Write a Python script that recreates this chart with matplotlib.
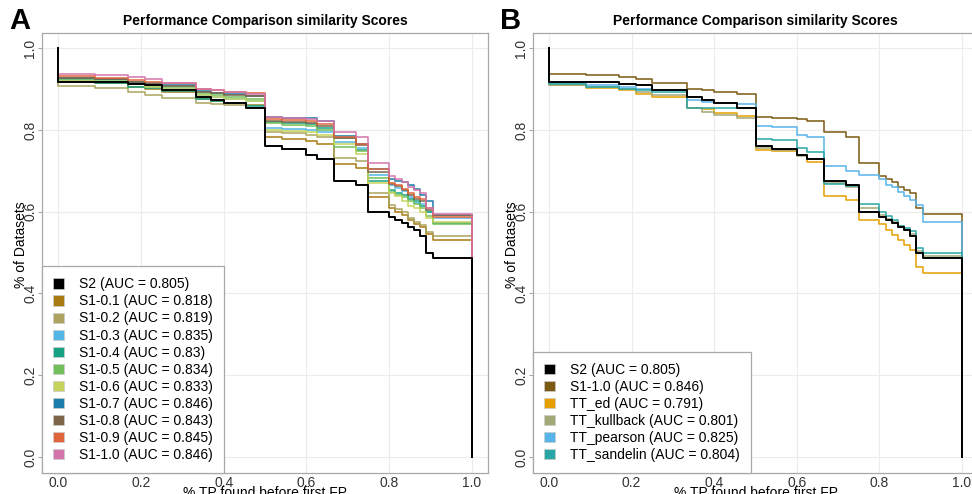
import matplotlib
matplotlib.use("Agg")
import matplotlib.pyplot as plt
from matplotlib.patches import Patch

plt.rcParams['font.family'] = ['Liberation Sans', 'DejaVu Sans']

# x positions where the curves step (% TP found before first FP)
steps_x = [0.0, 0.09, 0.17, 0.21, 0.25, 0.334, 0.37, 0.40, 0.455, 0.5, 0.54, 0.6,
           0.625, 0.667, 0.72, 0.75, 0.80, 0.815, 0.83, 0.845, 0.86, 0.874, 0.888, 0.905]

# % of datasets at each step
s2 = [0.918, 0.916, 0.913, 0.909, 0.897, 0.881, 0.873, 0.866, 0.853, 0.760, 0.754, 0.738,
      0.728, 0.676, 0.665, 0.600, 0.588, 0.580, 0.572, 0.563, 0.555, 0.540, 0.498, 0.487]
s1_01 = [0.920, 0.915, 0.905, 0.899, 0.893, 0.876, 0.870, 0.866, 0.862, 0.782, 0.779, 0.772,
         0.765, 0.716, 0.708, 0.636, 0.609, 0.600, 0.592, 0.580, 0.570, 0.562, 0.545, 0.530]
s1_02 = [0.907, 0.902, 0.893, 0.885, 0.878, 0.865, 0.863, 0.862, 0.860, 0.795, 0.792, 0.788,
         0.782, 0.731, 0.725, 0.645, 0.616, 0.607, 0.600, 0.585, 0.575, 0.568, 0.550, 0.540]
s1_03 = [0.922, 0.918, 0.912, 0.905, 0.900, 0.885, 0.880, 0.876, 0.870, 0.805, 0.802, 0.800,
         0.795, 0.770, 0.755, 0.690, 0.665, 0.658, 0.650, 0.635, 0.622, 0.620, 0.600, 0.585]
s1_04 = [0.918, 0.914, 0.905, 0.902, 0.895, 0.876, 0.870, 0.866, 0.858, 0.820, 0.818, 0.815,
         0.805, 0.780, 0.750, 0.675, 0.652, 0.645, 0.640, 0.630, 0.625, 0.615, 0.600, 0.573]
s1_05 = [0.925, 0.922, 0.915, 0.910, 0.905, 0.890, 0.885, 0.880, 0.875, 0.816, 0.813, 0.810,
         0.800, 0.758, 0.748, 0.682, 0.648, 0.642, 0.635, 0.625, 0.618, 0.610, 0.590, 0.570]
s1_06 = [0.920, 0.917, 0.912, 0.905, 0.900, 0.885, 0.880, 0.875, 0.870, 0.800, 0.797, 0.795,
         0.788, 0.765, 0.740, 0.670, 0.645, 0.638, 0.625, 0.615, 0.608, 0.600, 0.585, 0.576]
s1_07 = [0.926, 0.924, 0.918, 0.914, 0.910, 0.895, 0.890, 0.887, 0.884, 0.831, 0.830, 0.828,
         0.822, 0.785, 0.765, 0.705, 0.680, 0.676, 0.672, 0.665, 0.655, 0.640, 0.625, 0.593]
s1_08 = [0.928, 0.925, 0.918, 0.913, 0.908, 0.893, 0.890, 0.886, 0.882, 0.822, 0.820, 0.818,
         0.810, 0.780, 0.762, 0.698, 0.668, 0.662, 0.652, 0.640, 0.630, 0.625, 0.605, 0.591]
s1_09 = [0.931, 0.928, 0.922, 0.918, 0.914, 0.900, 0.897, 0.893, 0.890, 0.826, 0.824, 0.822,
         0.815, 0.783, 0.765, 0.705, 0.670, 0.665, 0.655, 0.645, 0.635, 0.630, 0.610, 0.586]
s1_10 = [0.936, 0.934, 0.930, 0.924, 0.915, 0.901, 0.897, 0.893, 0.889, 0.831, 0.829, 0.826,
         0.822, 0.795, 0.782, 0.718, 0.687, 0.680, 0.672, 0.660, 0.652, 0.645, 0.609, 0.594]
tt_ed = [0.910, 0.903, 0.897, 0.889, 0.881, 0.853, 0.850, 0.841, 0.834, 0.752, 0.748, 0.738,
         0.722, 0.638, 0.628, 0.580, 0.571, 0.555, 0.543, 0.531, 0.518, 0.506, 0.464, 0.450]
tt_kullback = [0.911, 0.906, 0.901, 0.893, 0.885, 0.853, 0.844, 0.836, 0.828, 0.755, 0.750, 0.735,
               0.728, 0.670, 0.660, 0.610, 0.592, 0.582, 0.575, 0.565, 0.555, 0.545, 0.505, 0.492]
tt_pearson = [0.915, 0.909, 0.905, 0.900, 0.897, 0.873, 0.868, 0.866, 0.864, 0.810, 0.806, 0.787,
              0.782, 0.712, 0.700, 0.689, 0.681, 0.665, 0.660, 0.649, 0.638, 0.628, 0.616, 0.575]
tt_sandelin = [0.913, 0.906, 0.901, 0.897, 0.893, 0.853, 0.853, 0.853, 0.853, 0.777, 0.775, 0.755,
               0.745, 0.668, 0.662, 0.619, 0.600, 0.590, 0.580, 0.566, 0.560, 0.553, 0.511, 0.498]

labels_a = ["S2 (AUC = 0.805)", "S1-0.1 (AUC = 0.818)", "S1-0.2 (AUC = 0.819)",
            "S1-0.3 (AUC = 0.835)", "S1-0.4 (AUC = 0.83)", "S1-0.5 (AUC = 0.834)",
            "S1-0.6 (AUC = 0.833)", "S1-0.7 (AUC = 0.846)", "S1-0.8 (AUC = 0.843)",
            "S1-0.9 (AUC = 0.845)", "S1-1.0 (AUC = 0.846)"]
curves_a = [s2, s1_01, s1_02, s1_03, s1_04, s1_05, s1_06, s1_07, s1_08, s1_09, s1_10]
colors_a = ["#000000", "#A87A12", "#ABA35E", "#52B6E6", "#17A383", "#72BE5A",
            "#C6D35C", "#1B7BAA", "#7C6548", "#E0653A", "#D475A9"]

labels_b = ["S2 (AUC = 0.805)", "S1-1.0 (AUC = 0.846)", "TT_ed (AUC = 0.791)",
            "TT_kullback (AUC = 0.801)", "TT_pearson (AUC = 0.825)", "TT_sandelin (AUC = 0.804)"]
curves_b = [s2, s1_10, tt_ed, tt_kullback, tt_pearson, tt_sandelin]
colors_b = ["#000000", "#7A5A12", "#E69F00", "#A2A878", "#56B4E9", "#2AA6A6"]

title = "Performance Comparison similarity Scores"
ticks = [0.0, 0.2, 0.4, 0.6, 0.8, 1.0]


def draw_panel(ax, curves, labels, colors):
    xs = [0.0] + steps_x + [1.0]
    # S2 is first in the legend but sits on top of the other lines
    order = list(range(1, len(curves))) + [0]
    for i in order:
        ys = [1.0] + curves[i] + [0.0]
        ax.plot(xs, ys, drawstyle='steps-post', color=colors[i],
                lw=1.4 if i == 0 else 1.1, zorder=3 if i == 0 else 2)

    ax.set_xlim(-0.039, 1.039)
    ax.set_ylim(-0.039, 1.037)
    ax.set_xticks(ticks)
    ax.set_yticks(ticks)
    ax.set_xticklabels([f"{t:.1f}" for t in ticks])
    ax.set_yticklabels([f"{t:.1f}" for t in ticks], rotation=90, va='center')
    ax.grid(True, color='#ececec', lw=0.8)
    ax.set_axisbelow(True)
    for sp in ax.spines.values():
        sp.set_color('#a8a8a8')
        sp.set_linewidth(0.9)
    ax.tick_params(axis='x', length=0, pad=2, labelsize=10, labelcolor='#333333')
    ax.tick_params(axis='y', length=3, pad=0.5, labelsize=10, labelcolor='#333333',
                   color='#a8a8a8')

    ax.set_title(title, fontsize=10, fontweight='bold', pad=6)
    ax.set_xlabel("% TP found before first FP", fontsize=10)
    ax.xaxis.set_label_coords(0.5, -0.03)
    ax.set_ylabel("% of Datasets", fontsize=10, va='center')
    ax.yaxis.set_label_coords(-0.048, 0.52)

    handles = [Patch(facecolor=c, edgecolor='#cccccc', lw=0.5) for c in colors]
    leg = ax.legend(handles, labels, loc='lower left', bbox_to_anchor=(0, 0),
                    borderaxespad=0, fontsize=10, frameon=True, fancybox=False,
                    handlelength=0.75, handleheight=0.75, handletextpad=1.1,
                    labelspacing=0.22, borderpad=0.8)
    leg.get_frame().set_edgecolor('#a8a8a8')
    leg.get_frame().set_linewidth(0.9)
    leg.get_frame().set_alpha(1)


fig = plt.figure(figsize=(9.72, 4.94), dpi=100)
ax_a = fig.add_axes([42 / 972, 21 / 494, 446 / 972, 440 / 494])
ax_b = fig.add_axes([533 / 972, 21 / 494, 445 / 972, 440 / 494])

draw_panel(ax_a, curves_a, labels_a, colors_a)
draw_panel(ax_b, curves_b, labels_b, colors_b)

fig.text(20 / 972, 1 - 21 / 494, "A", fontsize=21, fontweight='bold', ha='center', va='center')
fig.text(511 / 972, 1 - 21 / 494, "B", fontsize=21, fontweight='bold', ha='center', va='center')

fig.savefig("out.png", dpi=100)
